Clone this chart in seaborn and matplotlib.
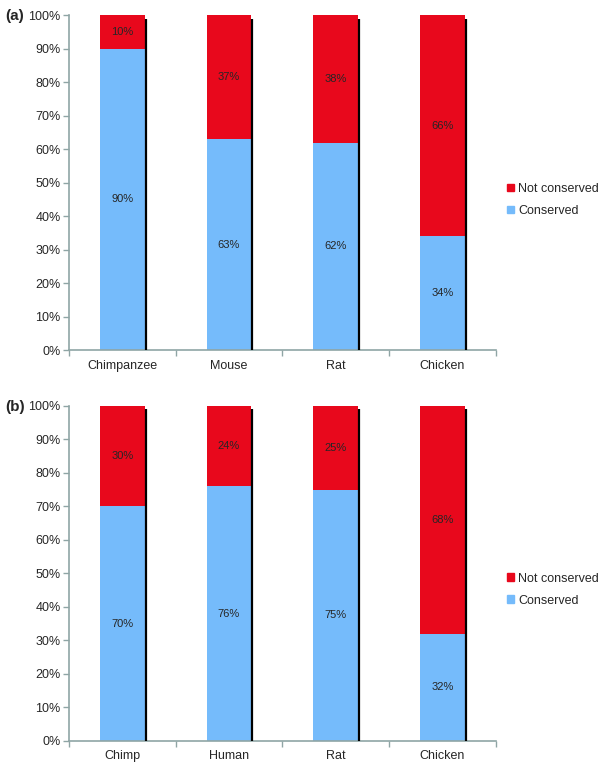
import numpy as np
import pandas as pd
import matplotlib
matplotlib.use("Agg")
import matplotlib.pyplot as plt
import seaborn as sns
from matplotlib.patches import Patch

# Panel (a)
species_a = ["Chimpanzee", "Mouse", "Rat", "Chicken"]
conserved_a = [90, 63, 62, 34]
not_conserved_a = [10, 37, 38, 66]

# Panel (b)
species_b = ["Chimp", "Human", "Rat", "Chicken"]
conserved_b = [70, 76, 75, 32]
not_conserved_b = [30, 24, 25, 68]

RED = "#E8081C"
BLUE = "#75BBFB"
AXIS = "#8FA5A5"

sns.set_theme(style="white")
plt.rcParams["font.family"] = ["Liberation Sans", "DejaVu Sans"]
plt.rcParams["font.size"] = 8


def draw_panel(fig, rect, species, conserved, not_conserved, tag, legend_y):
    ax = fig.add_axes(rect)
    df = pd.DataFrame({
        "species": species,
        "conserved": conserved,
        "total": np.array(conserved) + np.array(not_conserved),
    })

    # stacked bars: total in red, conserved part in blue on top
    sns.barplot(data=df, x="species", y="total", color=RED, width=0.42,
                saturation=1, ax=ax, linewidth=0)
    sns.barplot(data=df, x="species", y="conserved", color=BLUE, width=0.42,
                saturation=1, ax=ax, linewidth=0)

    # black shadow line on the right edge of each bar
    for p, tot in zip(ax.containers[0], df["total"]):
        xr = p.get_x() + p.get_width() + 0.009
        ax.plot([xr, xr], [0, tot - 1], color="black", lw=1.6,
                solid_capstyle="butt", zorder=3)

    # value labels
    for i, (c, n) in enumerate(zip(conserved, not_conserved)):
        ax.text(i, c / 2, f"{c}%", ha="center", va="center", fontsize=8)
        ax.text(i, c + n / 2, f"{n}%", ha="center", va="center", fontsize=8)

    ax.set_xlim(-0.5, len(species) - 0.5)
    ax.set_ylim(0, 100)
    ax.set_yticks(np.arange(0, 101, 10))
    ax.set_yticklabels([f"{v}%" for v in range(0, 101, 10)])
    ax.set_xticks(range(len(species)))
    ax.set_xticklabels(species)
    ax.set_xticks(np.arange(-0.5, len(species), 1), minor=True)
    ax.tick_params(axis="x", which="major", length=0, pad=7, labelsize=9)
    ax.tick_params(axis="x", which="minor", bottom=True, length=4,
                   color=AXIS, width=1)
    ax.tick_params(axis="y", left=True, length=4, color=AXIS, width=1,
                   labelsize=9, pad=2)
    ax.set_xlabel("")
    ax.set_ylabel("")
    for side in ["top", "right"]:
        ax.spines[side].set_visible(False)
    for side in ["left", "bottom"]:
        ax.spines[side].set_color(AXIS)
        ax.spines[side].set_linewidth(1.2)

    fig.text(0.008, rect[1] + rect[3] - 0.001, tag, fontsize=11,
             fontweight="bold", va="center")

    handles = [Patch(color=RED, label="Not conserved"),
               Patch(color=BLUE, label="Conserved")]
    fig.legend(handles=handles, loc="center left",
               bbox_to_anchor=(0.826, legend_y), frameon=False,
               handlelength=0.6, handleheight=0.6, handletextpad=0.3,
               labelspacing=0.8, fontsize=9)
    return ax


fig = plt.figure(figsize=(6, 7.66), dpi=100)

draw_panel(fig, [0.115, 0.543, 0.711, 0.437], species_a, conserved_a,
           not_conserved_a, "(a)", 0.739)
draw_panel(fig, [0.115, 0.033, 0.711, 0.437], species_b, conserved_b,
           not_conserved_b, "(b)", 0.230)

fig.savefig("out.png", dpi=100)
